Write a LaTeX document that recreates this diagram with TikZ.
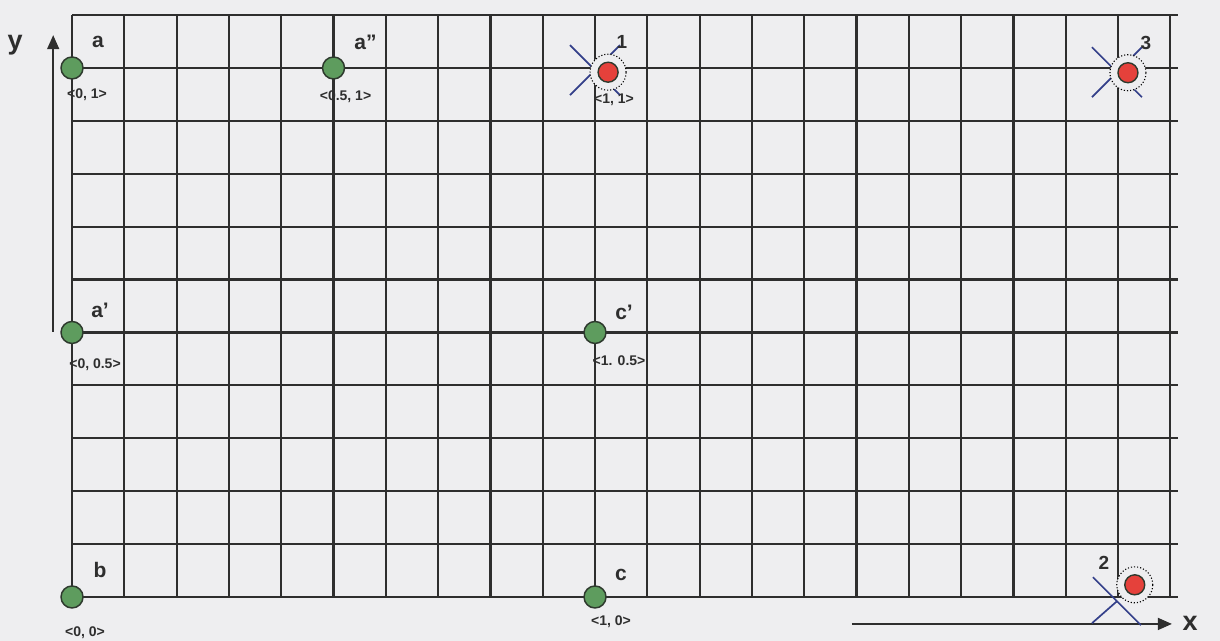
\documentclass[tikz,border=0pt]{standalone}
\usepackage{fontspec}
\setmainfont{Liberation Sans}[BoldFont={Liberation Sans Bold}]
\definecolor{PAPER}{HTML}{EEEEF0}
\definecolor{GRIDgray}{HTML}{2E2E2E}
\definecolor{TXTgray}{HTML}{2E2E2E}
\definecolor{PTgreen}{HTML}{5E9C5E}
\definecolor{PTedge}{HTML}{2E3A2E}
\definecolor{PTred}{HTML}{E5413B}
\definecolor{CROSSblue}{HTML}{34408A}
\usetikzlibrary{arrows.meta}

\begin{document}
\begin{tikzpicture}[x=52.3pt, y=52.9pt,
   grid/.style={GRIDgray, line width=2.2pt},
   greenpt/.style={circle, fill=PTgreen, draw=PTedge, line width=1.5pt, minimum size=22pt, inner sep=0pt},
   redpt/.style={circle, fill=PTred, draw=PTedge, line width=1.4pt, minimum size=20pt, inner sep=0pt},
   halo/.style={circle, fill=PAPER, draw=black, dotted, line width=1.1pt, minimum size=36pt, inner sep=0pt},
   cross/.style={CROSSblue, line width=1.7pt},
   lbl/.style={text=TXTgray, font=\bfseries\fontsize{21}{21}\selectfont},
   coordlbl/.style={text=TXTgray, font=\bfseries\fontsize{14}{14}\selectfont},
   num/.style={text=TXTgray, font=\bfseries\fontsize{19}{19}\selectfont},
   axis/.style={GRIDgray, line width=1.6pt, -{Triangle[length=14pt,width=12pt]}},
   axlbl/.style={text=TXTgray, font=\bfseries\fontsize{27}{27}\selectfont}]
   % Paper
   \fill[PAPER] (-1.377,-0.832) rectangle (21.95,11.285);
   \useasboundingbox (-1.377,-0.832) rectangle (21.95,11.285);
   % Grid
   \foreach \i in {0,...,21}
      \draw[grid] (\i,0) -- (\i,11);
   \foreach \j in {0,...,11}
      \draw[grid] (0,\j) -- (21.15,\j);
   % Axes
   \coordinate (y0) at (-0.36,5.01);
   \coordinate (y1) at (-0.36,10.62);
   \draw[axis] (y0) -- (y1);
   \node[axlbl] (ylbl) at (-1.09,10.43) {y};
   \coordinate (x0) at (14.91,-0.51);
   \coordinate (x1) at (21.03,-0.51);
   \draw[axis] (x0) -- (x1);
   \node[axlbl] (xlbl) at (21.38,-0.49) {x};
   % Green points
   \node[greenpt] (a)  at (0,10) {};
   \node[greenpt] (a2) at (5,10) {};
   \node[greenpt] (a1) at (0,5)  {};
   \node[greenpt] (c1) at (10,5) {};
   \node[greenpt] (b)  at (0,0)  {};
   \node[greenpt] (c)  at (10,0) {};
   % Names
   \node[lbl] (a-lbl)  at ([shift={(26pt,26pt)}]a)  {a};
   \node[lbl] (a2-lbl) at ([shift={(32pt,26pt)}]a2) {a''};
   \node[lbl] (a1-lbl) at ([shift={(28pt,22pt)}]a1) {a'};
   \node[lbl] (c1-lbl) at ([shift={(29pt,20pt)}]c1) {c'};
   \node[lbl] (b-lbl)  at ([shift={(28pt,27pt)}]b)  {b};
   \node[lbl] (c-lbl)  at ([shift={(26pt,22pt)}]c)  {c};
   % Coordinates
   \node[coordlbl] (a-crd)  at ([shift={(15pt,-27pt)}]a)  {<0, 1>};
   \node[coordlbl] (a2-crd) at ([shift={(12pt,-29pt)}]a2) {<0.5, 1>};
   \node[coordlbl] (a1-crd) at ([shift={(23pt,-32pt)}]a1) {<0, 0.5>};
   \node[coordlbl] (c1-crd) at ([shift={(24pt,-28pt)}]c1) {<1. 0.5>};
   \node[coordlbl] (b-crd)  at ([shift={(13pt,-36pt)}]b)  {<0, 0>};
   \node[coordlbl] (c-crd)  at ([shift={(16pt,-25pt)}]c)  {<1, 0>};
   % Crosses
   \coordinate (k1) at (10,9.96);
   \coordinate (k3) at (19.98,9.92);
   \coordinate (k2) at (19.98,-0.08);
   \foreach \k in {k1,k3}{
      \draw[cross] ([shift={(-25pt,25pt)}]\k) -- ([shift={(25pt,-25pt)}]\k);
      \draw[cross] ([shift={(-25pt,-25pt)}]\k) -- ([shift={(25pt,25pt)}]\k);
   }
   \draw[cross] ([shift={(-24pt,24pt)}]k2) -- ([shift={(24pt,-24pt)}]k2);
   \draw[cross] ([shift={(-25pt,-22pt)}]k2) -- (k2);
   % Red points
   \node[halo]  (h1) at (10.25,9.92) {};
   \node[redpt] (r1) at (h1) {};
   \node[halo]  (h3) at (20.19,9.91) {};
   \node[redpt] (r3) at (h3) {};
   \node[halo]  (h2) at (20.32,0.23) {};
   \node[redpt] (r2) at (h2) {};
   \node[coordlbl] (r1-crd) at ([shift={(19pt,-30pt)}]k1) {<1, 1>};
   % Numbers
   \node[num] (n1) at ([shift={(27pt,28pt)}]k1) {1};
   \node[num] (n3) at ([shift={(29pt,29pt)}]k3) {3};
   \node[num] (n2) at ([shift={(-13pt,38pt)}]k2) {2};
\end{tikzpicture}
\end{document}
